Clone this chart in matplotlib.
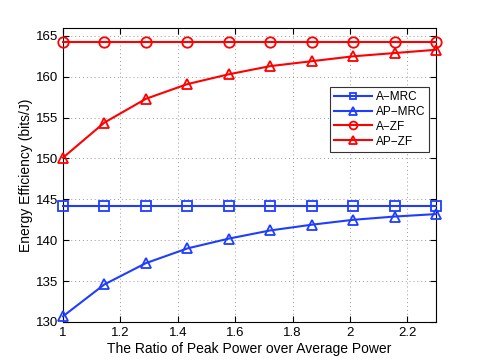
import numpy as np
import matplotlib.pyplot as plt

plt.rcParams['font.family'] = ['Liberation Sans', 'DejaVu Sans']

ratio = np.linspace(1, 2.3, 10)
a_mrc = [144.15] * 10
ap_mrc = [130.7, 134.6, 137.2, 139.0, 140.2, 141.2, 141.9, 142.5, 142.9, 143.2]
a_zf = [164.25] * 10
ap_zf = [150.1, 154.4, 157.3, 159.1, 160.3, 161.3, 161.9, 162.5, 162.9, 163.3]

blue = '#1f3dff'
red = '#ff0000'

fig = plt.figure(figsize=(4.82, 3.62), dpi=100)
ax = fig.add_axes([0.1307, 0.1105, 0.774, 0.813])

style = dict(lw=1.5, mfc='none', mew=1.3, clip_on=False, zorder=3)
ax.plot(ratio, a_mrc, '-s', color=blue, ms=6.5, label='A\u2212MRC', **style)
ax.plot(ratio, ap_mrc, '-^', color=blue, ms=7.5, label='AP\u2212MRC', **style)
ax.plot(ratio, a_zf, '-o', color=red, ms=7.5, label='A\u2212ZF', **style)
ax.plot(ratio, ap_zf, '-^', color=red, ms=7.5, label='AP\u2212ZF', **style)

ax.set_xlim(1, 2.3)
ax.set_ylim(130, 166)
ax.set_xticks([1, 1.2, 1.4, 1.6, 1.8, 2, 2.2])
ax.set_xticklabels(['1', '1.2', '1.4', '1.6', '1.8', '2', '2.2'])
ax.set_yticks(range(130, 166, 5))
ax.grid(True, linestyle=(0, (1, 3)), color='#999999', lw=0.7)
ax.tick_params(direction='in', top=True, right=True, labelsize=9.5, length=4)
for s in ax.spines.values():
    s.set_linewidth(0.8)

ax.set_xlabel('The Ratio of Peak Power over Average Power', fontsize=10, labelpad=2)
ax.set_ylabel('Energy Efficiency (bits/J)', fontsize=10, labelpad=2)

leg = ax.legend(loc='upper left', bbox_to_anchor=(0.7, 0.82), fontsize=8.5,
                fancybox=False, edgecolor='#333333', framealpha=1, markerscale=0.75,
                handlelength=3.2, borderpad=0.35, labelspacing=0.25, handletextpad=0.3)
leg.get_frame().set_linewidth(0.8)

fig.savefig('out.png', dpi=100)
